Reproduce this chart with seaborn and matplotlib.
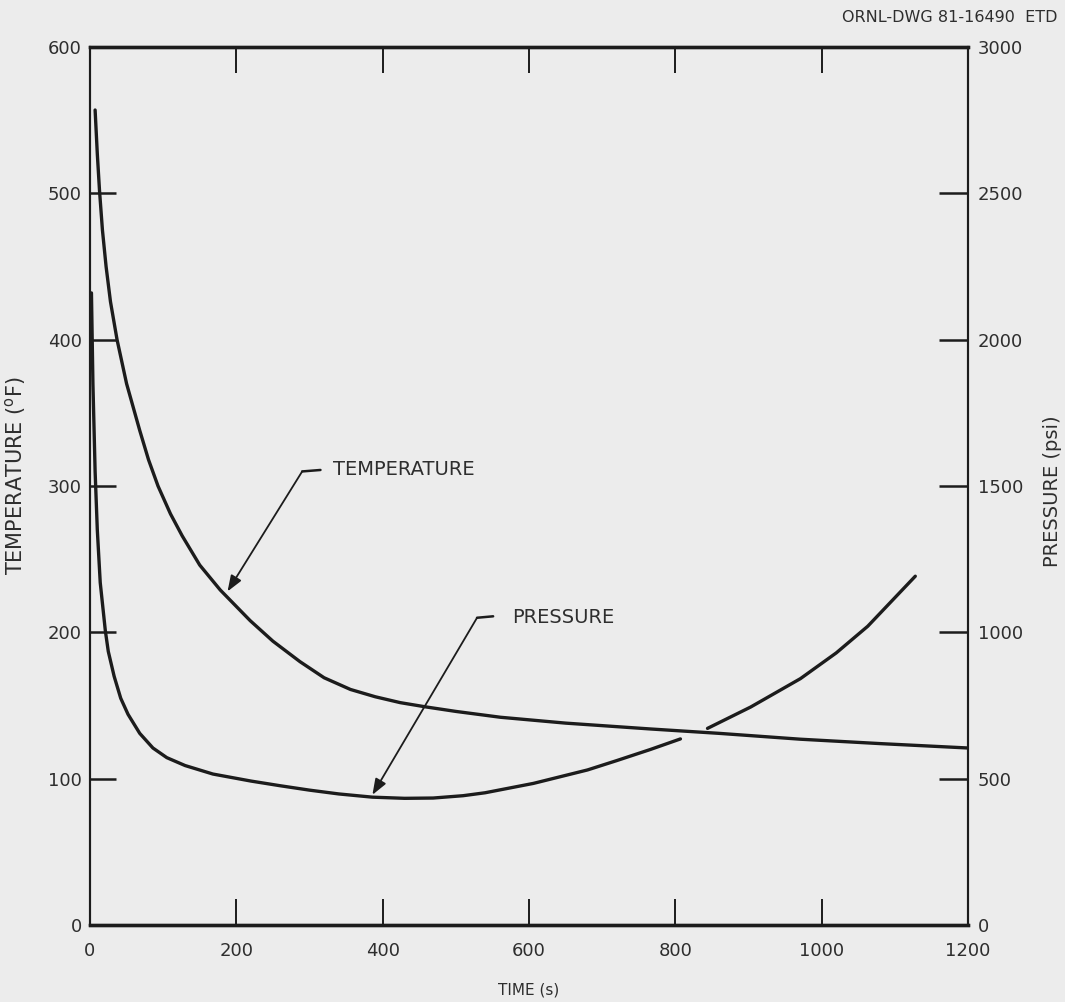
import pandas as pd
import matplotlib
matplotlib.use("Agg")
import matplotlib.pyplot as plt
import seaborn as sns

# values
temp_time = [7, 10, 13, 17, 22, 28, 37, 50, 68, 80, 93, 110, 126, 150, 178, 219, 250, 287, 320,
             356, 390, 424, 460, 500, 561, 650, 766, 860, 971, 1080, 1200]
temp_degf = [557, 527, 502, 475, 450, 426, 400, 370, 338, 318, 300, 281, 266, 246, 229, 208, 194, 180, 169,
             161, 156, 152, 149, 146, 142, 138, 134, 131, 127, 124, 121]

# pressure curve is broken where it passes the temperature curve
press_time_a = [2, 4, 7, 10, 14, 21, 25, 33, 42, 52, 68, 86, 105, 130, 168, 220, 260, 300, 340,
                386, 430, 469, 510, 540, 606, 680, 720, 766, 807]
press_psi_a = [2160, 1850, 1550, 1350, 1170, 1005, 935, 850, 775, 720, 655, 605, 572, 545, 516, 492, 476, 461, 448,
               437, 433, 434, 442, 452, 484, 530, 562, 600, 636]
press_time_b = [844, 903, 971, 1020, 1063, 1128]
press_psi_b = [672, 745, 842, 930, 1021, 1192]

time_ticks = [0, 200, 400, 600, 800, 1000, 1200]
temp_ticks = [0, 100, 200, 300, 400, 500, 600]
press_ticks = [0, 500, 1000, 1500, 2000, 2500, 3000]

sns.set_theme(style="ticks")
plt.rcParams["font.family"] = ["DejaVu Sans"]

bg = "#ececec"
ink = "#1c1c1c"
txt = "#2e2e2e"

fig = plt.figure(figsize=(10.65, 10.02), dpi=100, facecolor=bg)
ax = fig.add_axes([0.0845, 0.0768, 0.8244, 0.8762])
ax.set_facecolor(bg)
ax2 = ax.twinx()

temp_df = pd.DataFrame({"time": temp_time, "temperature": temp_degf})
press_df = pd.DataFrame({
    "time": press_time_a + press_time_b,
    "pressure": press_psi_a + press_psi_b,
    "segment": ["a"] * len(press_time_a) + ["b"] * len(press_time_b),
})

sns.lineplot(data=temp_df, x="time", y="temperature", ax=ax, color=ink,
             linewidth=2.4, estimator=None, sort=False)
sns.lineplot(data=press_df, x="time", y="pressure", units="segment", ax=ax2,
             color=ink, linewidth=2.4, estimator=None, sort=False)

ax.set_xlim(0, 1200)
ax.set_ylim(0, 600)
ax2.set_ylim(0, 3000)
ax.set_xticks(time_ticks)
ax.set_yticks(temp_ticks)
ax2.set_yticks(press_ticks)

ax.tick_params(axis="x", direction="in", length=19, width=1.4, top=True, bottom=True,
               labelsize=13, pad=12, color=ink, labelcolor=txt)
ax.tick_params(axis="y", direction="in", length=19, width=1.8, left=True,
               labelsize=13, pad=6, color=ink, labelcolor=txt)
ax2.tick_params(axis="y", direction="in", length=21, width=1.8, right=True,
                labelsize=13, pad=7, color=ink, labelcolor=txt)

for a in (ax, ax2):
    a.spines["top"].set_linewidth(2.4)
    a.spines["bottom"].set_linewidth(2.4)
    a.spines["left"].set_linewidth(1.5)
    a.spines["right"].set_linewidth(1.5)
    for s in a.spines.values():
        s.set_color(ink)

ax.set_xlabel("TIME (s)", fontsize=11, color=txt)
ax.xaxis.set_label_coords(0.5, -0.066)
ax.set_ylabel("TEMPERATURE ($^{\\mathrm{o}}$F)", fontsize=15, color=txt)
ax.yaxis.set_label_coords(-0.071, 0.512)
ax2.set_ylabel("PRESSURE (psi)", fontsize=14, color=txt)
ax2.yaxis.set_label_coords(1.085, 0.494)

# leader lines and labels for the two curves
arrow = dict(arrowstyle="-|>,head_length=0.8,head_width=0.3", color=ink, lw=1.3,
             shrinkA=0, shrinkB=0)
ax.annotate("", xy=(188, 228), xytext=(290, 310), arrowprops=arrow)
ax.plot([290, 315], [310, 311], color=ink, lw=1.8)
ax.text(332, 311, "TEMPERATURE", fontsize=14, color=txt, va="center", ha="left")

ax.annotate("", xy=(386, 89), xytext=(529, 210), arrowprops=arrow)
ax.plot([529, 551], [210, 211], color=ink, lw=1.8)
ax.text(577, 210, "PRESSURE", fontsize=14, color=txt, va="center", ha="left")

fig.text(1058 / 1065, 1 - 18 / 1002, "ORNL-DWG 81-16490  ETD", ha="right", va="center",
         fontsize=11.5, color=txt)

fig.savefig("out.png", dpi=100, facecolor=bg)
